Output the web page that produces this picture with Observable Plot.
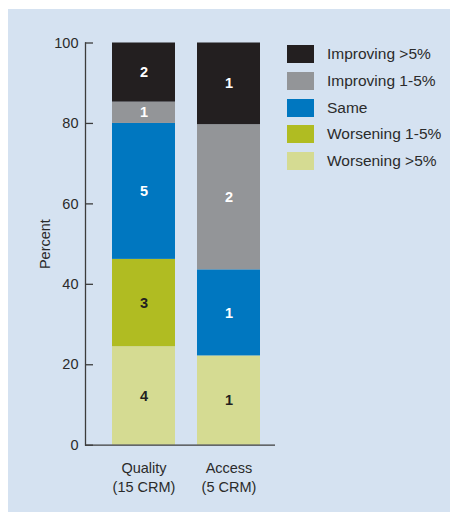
<!DOCTYPE html>
<html>
<head>
<meta charset="utf-8">
<script src="https://cdn.jsdelivr.net/npm/d3@7"></script>
<script src="https://cdn.jsdelivr.net/npm/@observablehq/plot@0.6"></script>
<style>
  html, body { margin: 0; padding: 0; background: #ffffff; }
  #wrap { position: relative; width: 450px; height: 512px; overflow: hidden; }
  #panel { position: absolute; left: 8px; top: 9px; right: 0; bottom: 0; background: #d5e2f1; }
  #chart { position: absolute; left: 0; top: 0; }
  #legend { position: absolute; left: 287px; top: 45px; font-family: "Liberation Sans", Arial, sans-serif; font-size: 15.5px; color: #2b2b2b; }
  .row { display: flex; align-items: center; height: 18px; margin-bottom: 8.8px; }
  .sw { width: 27px; height: 18px; margin-right: 13px; flex: none; }
</style>
</head>
<body>
<div id="wrap">
  <div id="panel"></div>
  <div id="chart"></div>
  <div id="legend"></div>
</div>
<script>
// ---- data ----
const categories = ["Quality", "Access"];
const xLabels = ["Quality\n(15 CRM)", "Access\n(5 CRM)"];
// stacking order: bottom to top
const series = ["Worsening >5%", "Worsening 1-5%", "Same", "Improving 1-5%", "Improving >5%"];
const qualityPct = [24.5, 21.7, 33.8, 5.3, 14.7];
const accessPct = [22.2, 0, 21.4, 36.1, 20.3];
const qualityCount = [4, 3, 5, 1, 2];
const accessCount = [1, 0, 1, 2, 1];
const colors = ["#d5db92", "#b0bc22", "#0077c0", "#939598", "#231f20"];
const legendOrder = ["Improving >5%", "Improving 1-5%", "Same", "Worsening 1-5%", "Worsening >5%"];
const darkSeries = ["Same", "Improving 1-5%", "Improving >5%"];
const yTicks = [0, 20, 40, 60, 80, 100];

const rows = [];
series.forEach((s, i) => {
  rows.push({cat: "Quality", series: s, pct: qualityPct[i], count: qualityCount[i]});
  rows.push({cat: "Access", series: s, pct: accessPct[i], count: accessCount[i]});
});
const data = rows.filter(d => d.pct > 0);

const font = "'Liberation Sans', Arial, sans-serif";
const axisColor = "#3c3c3c";

const stackOpts = (extra) => Plot.stackY({x: "cat", y: "pct", z: "series", order: series, ...extra});

const plot = Plot.plot({
  width: 450,
  height: 512,
  marginTop: 42.5,
  marginBottom: 67.3,
  marginLeft: 85,
  marginRight: 175,
  style: {fontFamily: font, fontSize: "14px", background: "transparent", color: "#222"},
  x: {domain: categories, range: [111, 260.2], paddingInner: 0.257, paddingOuter: 0, label: null},
  y: {domain: [0, 100], label: null},
  color: {domain: series, range: colors},
  marks: [
    Plot.barY(data, stackOpts({fill: "series"})),
    Plot.text(data, Plot.filter(d => darkSeries.includes(d.series), stackOpts({text: "count", fill: "white", fontWeight: "bold", fontSize: 14.5}))),
    Plot.text(data, Plot.filter(d => !darkSeries.includes(d.series), stackOpts({text: "count", fill: "#231f20", fontWeight: "bold", fontSize: 14.5}))),
    Plot.axisY({ticks: yTicks, tickSize: -8, tickPadding: 15, stroke: axisColor, strokeWidth: 1.3, color: "#2b2b2b", fontSize: 14.5, label: null}),
    Plot.axisX({tickSize: 0, tickPadding: 14, tickFormat: (d) => xLabels[categories.indexOf(d)], lineHeight: 1.33, color: "#2b2b2b", fontSize: 14.5, label: null}),
    Plot.frame({anchor: "left", stroke: axisColor, strokeWidth: 1.3}),
    Plot.ruleY([0], {stroke: axisColor, strokeWidth: 1.3}),
    Plot.text(["Percent"], {frameAnchor: "left", textAnchor: "middle", rotate: -90, dx: -40, fill: "#2b2b2b", fontSize: 14.5})
  ]
});
document.getElementById("chart").appendChild(plot);

// legend (colors taken from the plot's color scale)
const colorScale = plot.scale("color");
const cmap = new Map(colorScale.domain.map((d, i) => [d, colorScale.range[i]]));
const legend = document.getElementById("legend");
legendOrder.forEach(s => {
  const row = document.createElement("div");
  row.className = "row";
  const sw = document.createElement("div");
  sw.className = "sw";
  sw.style.background = cmap.get(s);
  const lab = document.createElement("span");
  lab.textContent = s;
  row.appendChild(sw);
  row.appendChild(lab);
  legend.appendChild(row);
});
</script>
</body>
</html>
